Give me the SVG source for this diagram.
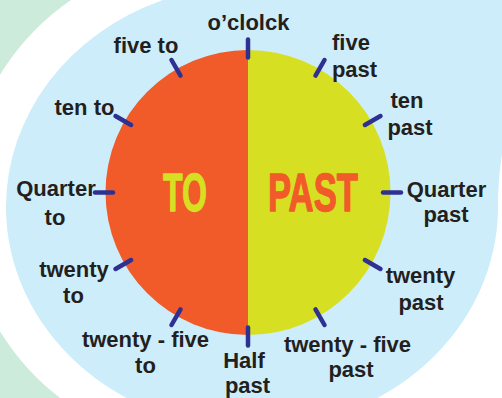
<svg xmlns="http://www.w3.org/2000/svg" width="502" height="398" viewBox="0 0 502 398">
<style>
.lbl{font-family:"Liberation Sans",Arial,sans-serif;font-weight:bold;font-size:22px;fill:#231f20;text-anchor:middle}
.big{font-family:"Liberation Sans",Arial,sans-serif;font-weight:bold;font-size:53px;stroke-width:1.3;stroke-linejoin:round}
.tick{stroke:#2e3192;stroke-width:4.5;stroke-linecap:round;fill:none}
</style>
<rect width="502" height="398" fill="#ffffff"/>
<g id="background">
<rect x="0" y="0" width="210" height="398" fill="#cdebdb"/>
<circle cx="210" cy="203" r="246" fill="#ffffff"/>
<path d="M163,0 A246,222 0 0 0 6,207 A246,222 0 0 0 252,429 A246,222 0 0 0 498,207 C498,185 500,165 503,148 L520,148 L520,-10 L163,-10 Z" fill="#cdedfa"/>
</g>
<g id="clock">
<path d="M248,50 A142.5,142.5 0 0 0 248,335 Z" fill="#f15a29"/>
<path d="M248,50 A142.5,142.5 0 0 1 248,335 Z" fill="#d7df23"/>
<text class="big" x="163" y="211" textLength="44" lengthAdjust="spacingAndGlyphs" fill="#d7df23" stroke="#d7df23">TO</text>
<text class="big" x="268" y="211" textLength="90" lengthAdjust="spacingAndGlyphs" fill="#f15a29" stroke="#f15a29">PAST</text>
</g>
<g id="connectors">
<line class="tick" x1="248" y1="57.5" x2="248" y2="39.5"/>
<line class="tick" x1="315.5" y1="75.6" x2="324.5" y2="60"/>
<line class="tick" x1="364.9" y1="125" x2="380.5" y2="116"/>
<line class="tick" x1="383" y1="192.5" x2="401" y2="192.5"/>
<line class="tick" x1="364.9" y1="260" x2="380.5" y2="269"/>
<line class="tick" x1="315.5" y1="309.4" x2="324.5" y2="325"/>
<line class="tick" x1="248" y1="327.5" x2="248" y2="345.5"/>
<line class="tick" x1="180.5" y1="309.4" x2="171.5" y2="325"/>
<line class="tick" x1="131.1" y1="260" x2="115.5" y2="269"/>
<line class="tick" x1="113" y1="192.5" x2="95" y2="192.5"/>
<line class="tick" x1="131.1" y1="125" x2="115.5" y2="116"/>
<line class="tick" x1="180.5" y1="75.6" x2="171.5" y2="60"/>
</g>
<g id="oclock"><text class="lbl" x="248.5" y="30">o’clolck</text></g>
<g id="five-past"><text class="lbl" x="351" y="50">five</text><text class="lbl" x="354.5" y="77">past</text></g>
<g id="ten-past"><text class="lbl" x="407" y="108">ten</text><text class="lbl" x="410" y="135">past</text></g>
<g id="quarter-past"><text class="lbl" x="446.5" y="197">Quarter</text><text class="lbl" x="446" y="222">past</text></g>
<g id="twenty-past"><text class="lbl" x="420.5" y="283">twenty</text><text class="lbl" x="421" y="310">past</text></g>
<g id="twenty-five-past"><text class="lbl" x="347.5" y="352">twenty - five</text><text class="lbl" x="351" y="377">past</text></g>
<g id="half-past"><text class="lbl" x="244" y="368">Half</text><text class="lbl" x="247.5" y="393">past</text></g>
<g id="twenty-five-to"><text class="lbl" x="145.5" y="347">twenty - five</text><text class="lbl" x="145.5" y="373">to</text></g>
<g id="twenty-to"><text class="lbl" x="74" y="277">twenty</text><text class="lbl" x="73.5" y="303">to</text></g>
<g id="quarter-to"><text class="lbl" x="56" y="196">Quarter</text><text class="lbl" x="55" y="225">to</text></g>
<g id="ten-to"><text class="lbl" x="84.5" y="115">ten to</text></g>
<g id="five-to"><text class="lbl" x="146" y="53">five to</text></g>
</svg>
